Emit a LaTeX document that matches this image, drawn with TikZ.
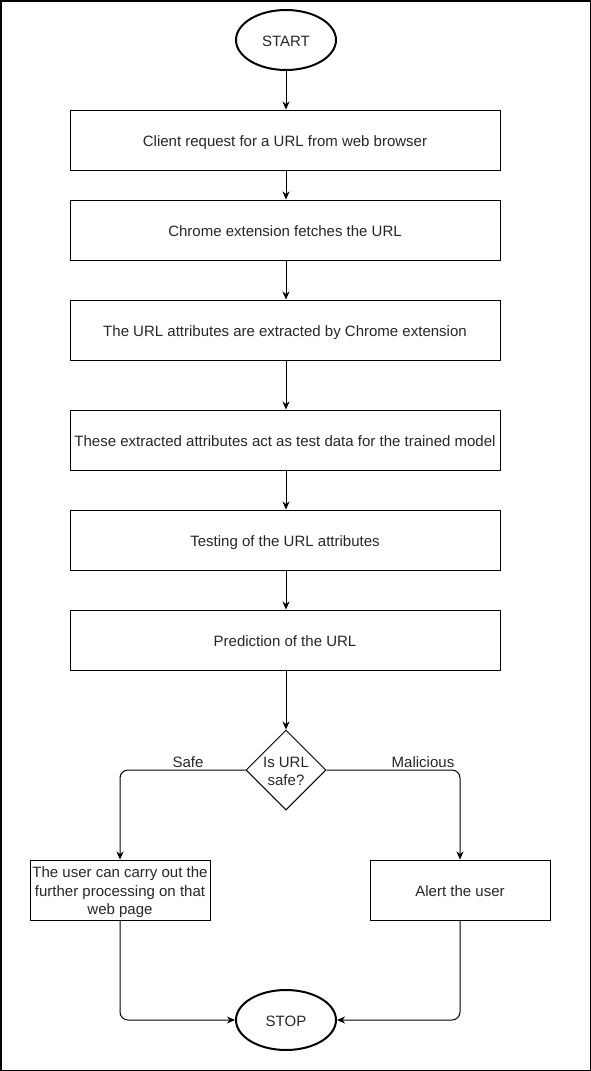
\documentclass[tikz,border=0pt]{standalone}
\usepackage{fontspec}
\setmainfont{Liberation Sans}
\usetikzlibrary{arrows.meta,shapes.geometric}
\newcommand\mytopstrut{\rule[-3.2pt]{0pt}{19.2pt}}
\newcommand\mybotstrut{\rule[-3.2pt]{0pt}{3.2pt}}
\begin{document}
\begin{tikzpicture}[x=1pt,y=-1pt,
  font=\fontsize{15}{18.5}\selectfont,
  shifted/.style={execute at begin node=\mytopstrut, execute at end node=\mybotstrut},
  procbox/.style={draw, line width=1pt, minimum width=430pt, minimum height=60pt, inner sep=0pt, text=black!85, shifted},
  sidebox/.style={draw, line width=1pt, minimum width=180pt, minimum height=60pt, inner sep=0pt, align=center, text=black!85},
  term/.style={ellipse, draw, line width=2pt, minimum width=100pt, minimum height=60pt, inner sep=0pt, text=black!85, shifted},
  decision/.style={diamond, draw, line width=1pt, minimum width=80pt, minimum height=80pt, inner sep=-8pt, align=center, text=black!85},
  conn/.style={line width=1pt, -{Stealth[length=8pt,width=7pt,inset=2.5pt]}, rounded corners=8pt},
  lbl/.style={text=black!85, inner sep=0pt}
]
\useasboundingbox (0,0) rectangle (591,1071);
\draw[line width=1.5pt] (0.75,0.75) rectangle (590.25,1070.25);

\node[term] (start) at (286,40) {START};
\node[procbox] (b1) at (285,140) {Client request for a URL from web browser};
\node[procbox] (b2) at (285,230) {Chrome extension fetches the URL};
\node[procbox] (b3) at (285,330) {The URL attributes are extracted by Chrome extension};
\node[procbox] (b4) at (285,440) {These extracted attributes act as test data for the trained model};
\node[procbox] (b5) at (285,540) {Testing of the URL attributes};
\node[procbox] (b6) at (285,640) {Prediction of the URL};
\node[decision] (dec) at (286,770) {\mytopstrut Is URL\\safe?\mybotstrut};
\node[sidebox] (safe) at (120,890) {\mytopstrut The user can carry out the\\further processing on that\\web page\mybotstrut};
\node[sidebox, shifted] (alert) at (460,890) {Alert the user};
\node[term] (stop) at (286,1020) {STOP};

\draw[conn] (start) -- (b1.north -| start);
\draw[conn] (b1.south -| start) -- (b2.north -| start);
\draw[conn] (b2.south -| start) -- (b3.north -| start);
\draw[conn] (b3.south -| start) -- (b4.north -| start);
\draw[conn] (b4.south -| start) -- (b5.north -| start);
\draw[conn] (b5.south -| start) -- (b6.north -| start);
\draw[conn] (b6.south -| start) -- (dec.north);
\draw[conn] (dec.west) -| (safe.north);
\draw[conn] (dec.east) -| (alert.north);
\draw[conn] (safe.south) |- (stop.west);
\draw[conn] (alert.south) |- (stop.east);

\node[lbl, anchor=base] (lsafe) at (188,767) {Safe};
\node[lbl, anchor=base] (lmal) at (423,767) {Malicious};
\end{tikzpicture}
\end{document}
